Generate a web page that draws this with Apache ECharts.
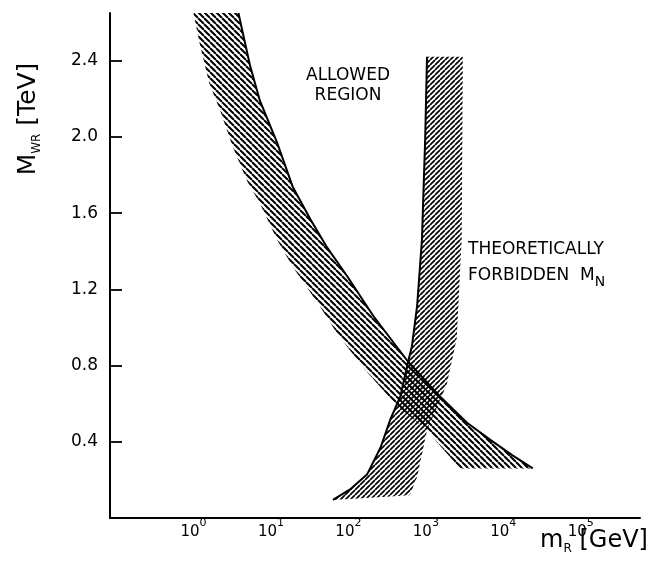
<!DOCTYPE html>
<html><head><meta charset="utf-8">
<script src="https://cdn.jsdelivr.net/npm/echarts@6/dist/echarts.min.js"></script>
<style>html,body{margin:0;padding:0;background:#fff}#c{width:659px;height:580px}</style>
</head><body><div id="c"></div>
<script>
// ---- data (m_R in GeV, M_WR in TeV) ----
const xTickExponents = [0, 1, 2, 3, 4, 5];
const yTickValues = [0.4, 0.8, 1.2, 1.6, 2.0, 2.4];
// decreasing band: solid (upper/right) edge and hatched (lower/left) edge
const band1Upper = [[3.8,2.65],[5.4,2.37],[7.2,2.19],[12,1.97],[19,1.74],[32,1.57],[53,1.42],[96,1.27],[210,1.06],[590,0.82],[1500,0.64],[3400,0.50],[6800,0.41],[13000,0.33],[24000,0.26]];
const band1Lower = [[1.0,2.65],[1.2,2.49],[1.6,2.28],[2.2,2.14],[3.2,1.95],[4.9,1.77],[7.2,1.65],[12,1.46],[19,1.32],[43,1.11],[71,0.97],[155,0.79],[400,0.60],[1030,0.46],[2750,0.26]];
// rising band: solid (left) edge and hatched (right) edge
const band2Left = [[1035,2.42],[980,1.99],[890,1.46],[770,1.11],[660,0.90],[590,0.82],[470,0.64],[350,0.52],[260,0.37],[175,0.23],[105,0.15],[63,0.095]];
const band2Right = [[3000,2.42],[2900,1.46],[2500,0.94],[1860,0.70],[1035,0.46],[770,0.215],[620,0.12]];

const FONT = 'DejaVu Sans';

function hatch(size, dir, lw) {
  const c = document.createElement('canvas');
  c.width = c.height = size;
  const g = c.getContext('2d');
  g.strokeStyle = '#000';
  g.lineWidth = lw;
  g.beginPath();
  for (let k = -1; k <= 1; k++) {
    if (dir === 'back') { g.moveTo(k*size, 0); g.lineTo(k*size + size, size); }
    else { g.moveTo(k*size, size); g.lineTo(k*size + size, 0); }
  }
  g.stroke();
  return c;
}
const pat1 = {image: hatch(6, 'back', 2.0), repeat: 'repeat'};
const pat2 = {image: hatch(5, 'fwd', 1.7), repeat: 'repeat'};

const poly1 = band1Upper.concat(band1Lower.slice().reverse());
const poly2 = band2Left.concat(band2Right.slice().reverse());

function polySeries(poly, pattern) {
  return {
    type: 'custom', coordinateSystem: 'cartesian2d', data: poly, z: 1, silent: true,
    renderItem: function (params, api) {
      if (params.dataIndex !== 0) return null;
      const pts = poly.map(p => api.coord(p));
      return {type: 'polygon', shape: {points: pts}, style: {fill: pattern, stroke: null}};
    }
  };
}

const chart = echarts.init(document.getElementById('c'), null, {renderer: 'canvas'});
chart.setOption({
  backgroundColor: '#fff',
  animation: false,
  grid: {left: 110, right: 19, top: 13, bottom: 62, containLabel: false},
  xAxis: {
    type: 'log', logBase: 10, min: 0.0835, max: 582000, splitNumber: 7,
    axisLine: {lineStyle: {color: '#000', width: 2}},
    axisTick: {show: false},
    splitLine: {show: false},
    axisLabel: {
      color: '#000', margin: 0,
      customValues: xTickExponents.map(e => Math.pow(10, e)),
      formatter: function (v) {
        const e = Math.round(Math.log10(v));
        return xTickExponents.indexOf(e) >= 0 ? '{b|10}{s|' + e + '}' : '';
      },
      rich: {
        b: {fontFamily: FONT, fontSize: 15, lineHeight: 22, verticalAlign: 'bottom', color: '#000'},
        s: {fontFamily: FONT, fontSize: 11, lineHeight: 10, verticalAlign: 'top', color: '#000'}
      }
    }
  },
  yAxis: {
    type: 'value', min: 0, max: 2.65, interval: 0.4,
    axisLine: {show: true, lineStyle: {color: '#000', width: 2}},
    axisTick: {show: true, inside: true, length: 12, lineStyle: {color: '#000', width: 1.8}, customValues: yTickValues},
    splitLine: {show: false},
    axisLabel: {
      color: '#000', fontFamily: FONT, fontSize: 17, margin: 12,
      customValues: yTickValues,
      formatter: function (v) { return yTickValues.some(t => Math.abs(t - v) < 1e-6) ? v.toFixed(1) : ''; }
    }
  },
  series: [
    polySeries(poly1, pat1),
    polySeries(poly2, pat2),
    {type: 'line', data: band1Upper, showSymbol: false, symbol: 'none', z: 3, silent: true,
     lineStyle: {color: '#000', width: 2}},
    {type: 'line', data: band2Left, showSymbol: false, symbol: 'none', z: 3, silent: true,
     lineStyle: {color: '#000', width: 2}}
  ],
  graphic: [
    {type: 'text', x: 28, y: 119, rotation: Math.PI / 2, z: 10,
     style: {text: '{a|M}{b|WR}{a| [TeV]}', align: 'center', verticalAlign: 'middle', fill: '#000',
       rich: {a: {fontFamily: FONT, fontSize: 25, lineHeight: 30, fill: '#000'},
              b: {fontFamily: FONT, fontSize: 12, lineHeight: 12, verticalAlign: 'bottom', fill: '#000'}}}},
    {type: 'text', x: 594, y: 541, z: 10,
     style: {text: '{a|m}{b|R}{a| [GeV]}', align: 'center', verticalAlign: 'middle', fill: '#000',
       rich: {a: {fontFamily: FONT, fontSize: 24, lineHeight: 28, fill: '#000'},
              b: {fontFamily: FONT, fontSize: 12, lineHeight: 12, verticalAlign: 'bottom', fill: '#000'}}}},
    {type: 'text', x: 348, y: 86, z: 10,
     style: {text: 'ALLOWED\nREGION', align: 'center', verticalAlign: 'middle', fill: '#000',
       fontFamily: FONT, fontSize: 17, lineHeight: 20}},
    {type: 'text', x: 468, y: 263, z: 10,
     style: {text: '{t|THEORETICALLY}\n{t|FORBIDDEN  M}{s|N}', align: 'left', verticalAlign: 'middle', fill: '#000',
       rich: {t: {fontFamily: FONT, fontSize: 17, lineHeight: 26, fill: '#000'},
              s: {fontFamily: FONT, fontSize: 14, lineHeight: 8, verticalAlign: 'bottom', fill: '#000'}}}}
  ]
});
</script>
</body></html>
